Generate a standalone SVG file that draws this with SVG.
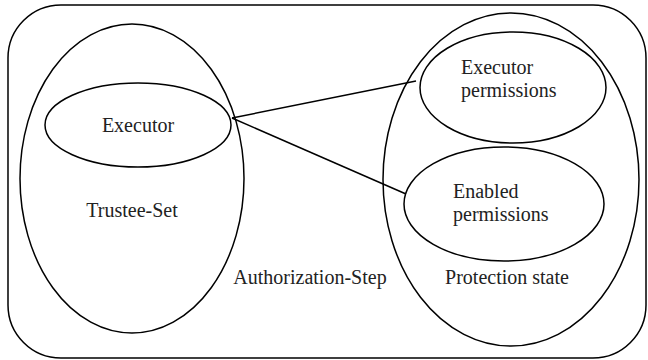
<svg xmlns="http://www.w3.org/2000/svg" width="648" height="360" viewBox="0 0 648 360">
  <style>
    .shape { fill: none; stroke: #000; stroke-width: 1.5; }
    .edge { stroke: #000; stroke-width: 1.5; fill: none; }
    .label { font-family: 'Liberation Serif', 'Times New Roman', Times, 'DejaVu Serif', serif; font-size: 20px; fill: #222; }
    .mid { text-anchor: middle; }
  </style>
  <rect width="648" height="360" fill="#fff"/>

  <g id="authorization-step">
    <rect class="shape" x="8" y="5" width="638" height="353" rx="53" ry="53"/>
    <text class="label mid" x="310" y="284">Authorization-Step</text>
  </g>

  <g id="trustee-set">
    <ellipse class="shape" cx="132" cy="178.5" rx="112" ry="154.5"/>
    <text class="label mid" x="132" y="217">Trustee-Set</text>
  </g>

  <g id="executor">
    <ellipse class="shape" cx="138" cy="125" rx="93" ry="42"/>
    <text class="label mid" x="138" y="132">Executor</text>
  </g>

  <g id="protection-state">
    <ellipse class="shape" cx="511" cy="179.5" rx="128" ry="166.5"/>
    <text class="label mid" x="507" y="284">Protection state</text>
  </g>

  <g id="executor-permissions">
    <ellipse class="shape" cx="513" cy="87.5" rx="93" ry="55.5"/>
    <text class="label" x="461" y="74">Executor</text>
    <text class="label" x="461" y="97">permissions</text>
  </g>

  <g id="enabled-permissions">
    <ellipse class="shape" cx="504" cy="204" rx="100" ry="57"/>
    <text class="label" x="453" y="198">Enabled</text>
    <text class="label" x="453" y="221">permissions</text>
  </g>

  <g id="connectors">
    <line class="edge" x1="232" y1="118" x2="416" y2="81"/>
    <line class="edge" x1="232" y1="118" x2="406" y2="194"/>
  </g>
</svg>
